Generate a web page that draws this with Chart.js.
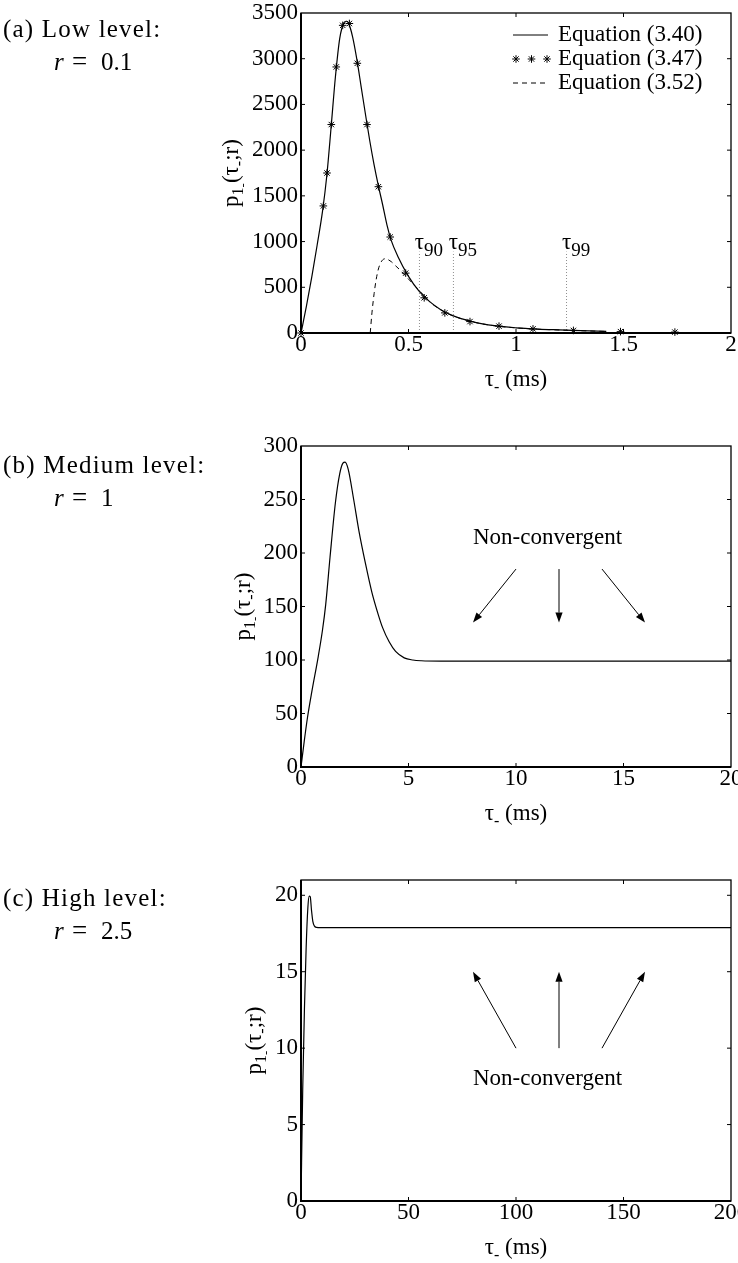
<!DOCTYPE html>
<html>
<head>
<meta charset="utf-8">
<script src="https://cdn.jsdelivr.net/npm/chart.js@4.4.1/dist/chart.umd.min.js"></script>
<style>
  html, body { margin: 0; padding: 0; background: #fff; }
  #page { position: relative; width: 738px; height: 1263px; overflow: hidden; background: #fff; }
  .panel { position: absolute; left: 0; width: 738px; }
</style>
</head>
<body>
<div id="page">
  <div class="panel" style="top:0px;height:433px"><canvas id="chartA"></canvas></div>
  <div class="panel" style="top:433px;height:434px"><canvas id="chartB"></canvas></div>
  <div class="panel" style="top:867px;height:396px"><canvas id="chartC"></canvas></div>
</div>
<script>
// ---------- (a) low level, r = 0.1 ----------
const tauA  = [0, 0.025, 0.05, 0.075, 0.1, 0.12, 0.14, 0.16, 0.18, 0.2, 0.21, 0.22, 0.24, 0.26, 0.28, 0.3,
               0.32, 0.34, 0.36, 0.38, 0.4, 0.42, 0.45, 0.5, 0.55, 0.6, 0.65, 0.7, 0.8, 0.9, 1.0, 1.1, 1.2, 1.3, 1.42];
const p340  = [0, 290, 610, 960, 1330, 1720, 2250, 2800, 3220, 3395, 3410, 3395, 3240, 2990, 2690, 2390,
               2100, 1840, 1610, 1400, 1180, 1010, 840, 620, 455, 340, 255, 195, 122, 80, 57, 43, 34, 26, 18];
const tau347 = [0, 0.104, 0.121, 0.141, 0.164, 0.194, 0.225, 0.262, 0.307, 0.360, 0.415, 0.487, 0.573,
                0.669, 0.786, 0.921, 1.079, 1.267, 1.486, 1.739];
const p347   = [0, 1390, 1750, 2280, 2910, 3365, 3385, 2950, 2280, 1600, 1050, 655, 385,
                220, 125, 75, 45, 28, 15, 10];
const tau352 = [0.322, 0.33, 0.34, 0.35, 0.36, 0.37, 0.38, 0.39, 0.40, 0.42, 0.44, 0.46, 0.48, 0.5, 0.53,
                0.56, 0.6, 0.65, 0.7, 0.8, 0.9, 1.0, 1.1, 1.2, 1.3, 1.42];
const p352   = [0, 220, 430, 590, 700, 765, 800, 812, 808, 780, 735, 690, 640, 590, 515,
                440, 338, 254, 194, 121, 79, 56, 42, 33, 25, 17];
const tauMarks     = [0.551, 0.709, 1.235];
const tauMarkNames = ['90', '95', '99'];
const tauMarkTop   = 890;
const legendA = ['Equation (3.40)', 'Equation (3.47)', 'Equation (3.52)'];
const xTicksA = [0, 0.5, 1, 1.5, 2];
const yTicksA = [0, 500, 1000, 1500, 2000, 2500, 3000, 3500];

// ---------- (b) medium level, r = 1 ----------
const tauB = [0, 0.15, 0.3, 0.5, 0.8, 1.0, 1.15, 1.35, 1.6, 1.8, 1.95, 2.05, 2.2, 2.45, 2.7, 3.0,
              3.3, 3.6, 3.8, 4.1, 4.4, 4.8, 5.2, 5.6, 6.5, 10, 15, 20];
const pB   = [0, 24, 46, 70, 103, 128, 152, 196, 247, 274, 284, 285, 278, 250, 220, 190,
              163, 142, 130, 117, 108, 102, 100, 99.3, 99, 99, 99, 99];
const xTicksB = [0, 5, 10, 15, 20];
const yTicksB = [0, 50, 100, 150, 200, 250, 300];

// ---------- (c) high level, r = 2.5 ----------
const tauC = [0, 0.8, 1.6, 2.4, 3.2, 3.8, 4.3, 4.9, 5.5, 6.2, 7.2, 9, 50, 100, 150, 200];
const pC   = [0, 7.3, 12.6, 16.6, 19.2, 19.95, 19.9, 19.0, 18.3, 18.0, 17.9, 17.88, 17.88, 17.88, 17.88, 17.88];
const xTicksC = [0, 50, 100, 150, 200];
const yTicksC = [0, 5, 10, 15, 20];

const noteText = 'Non-convergent';

// ---------- shared styling ----------
const SERIF = '"Liberation Serif", "Times New Roman", Times, serif';
const font = (size, style) => (style ? style + ' ' : '') + size + 'px ' + SERIF;
Chart.defaults.font.family = SERIF;
Chart.defaults.font.size = 23;
Chart.defaults.color = '#000';
Chart.defaults.animation = false;

const pts = (xs, ys) => xs.map((v, i) => ({ x: v, y: ys[i] }));

function axes(xMin, xMax, xTicks, yMin, yMax, yTicks, xBand) {
  const base = (vals) => ({
    type: 'linear',
    grid: { display: false, drawTicks: false },
    border: { display: false },
    afterBuildTicks: (s) => { s.ticks = vals.map(v => ({ value: v })); },
    ticks: {
      autoSkip: false, maxRotation: 0, color: '#000',
      font: { size: 23, lineHeight: 1 },
      callback: (v) => String(+Number(v).toFixed(3))
    }
  });
  const x = base(xTicks);
  Object.assign(x, { min: xMin, max: xMax, position: 'bottom' });
  x.ticks.padding = 0;
  x.afterFit = (s) => { s.height = xBand; s.paddingLeft = 0; s.paddingRight = 0; };
  const y = base(yTicks);
  Object.assign(y, { min: yMin, max: yMax, position: 'left' });
  y.ticks.padding = 3;
  y.afterFit = (s) => { s.width = 301; s.paddingTop = 0; s.paddingBottom = 0; };
  return { x, y };
}

function drawRich(ctx, parts, x, y, align) {
  let w = 0;
  parts.forEach(p => { ctx.font = p.f; w += ctx.measureText(p.t).width; });
  let cx = align === 'center' ? x - w / 2 : x;
  parts.forEach(p => {
    ctx.font = p.f;
    ctx.fillText(p.t, cx, y + (p.dy || 0));
    cx += ctx.measureText(p.t).width;
  });
}

function drawStar(ctx, x, y, r) {
  const d = r * Math.SQRT1_2;
  ctx.beginPath();
  ctx.moveTo(x - r, y); ctx.lineTo(x + r, y);
  ctx.moveTo(x, y - r); ctx.lineTo(x, y + r);
  ctx.moveTo(x - d, y - d); ctx.lineTo(x + d, y + d);
  ctx.moveTo(x - d, y + d); ctx.lineTo(x + d, y - d);
  ctx.stroke();
}

function drawArrow(ctx, x1, y1, x2, y2) {
  const ang = Math.atan2(y2 - y1, x2 - x1), L = 10, H = 3.6;
  const bx = x2 - L * Math.cos(ang), by = y2 - L * Math.sin(ang);
  ctx.beginPath(); ctx.moveTo(x1, y1); ctx.lineTo(bx, by); ctx.stroke();
  ctx.beginPath();
  ctx.moveTo(x2, y2);
  ctx.lineTo(bx + H * Math.sin(ang), by - H * Math.cos(ang));
  ctx.lineTo(bx - H * Math.sin(ang), by + H * Math.cos(ang));
  ctx.closePath(); ctx.fill();
}

const xTitleParts = [
  { t: 'τ', f: font(23) }, { t: '-', f: font(16), dy: 6 }, { t: ' (ms)', f: font(23) }
];
const yTitleParts = [
  { t: 'p', f: font(23) }, { t: '1', f: font(16), dy: 5 }, { t: '-', f: font(13), dy: 9 },
  { t: '(τ', f: font(23) }, { t: '-', f: font(16), dy: 6 }, { t: ';r)', f: font(23) }
];

// frame, inner ticks, axis titles, captions and annotations
function decor(cfg) {
  return {
    id: 'decor',
    afterDatasetsDraw(chart) {
      const { ctx, chartArea: a, scales: { x, y } } = chart;
      ctx.save();
      ctx.strokeStyle = '#000'; ctx.fillStyle = '#000';
      // inward tick marks on all four sides
      const TL = 4;
      ctx.lineWidth = 1;
      ctx.beginPath();
      x.ticks.forEach(t => {
        const px = x.getPixelForValue(t.value);
        if (px <= a.left + 1 || px >= a.right - 1) return;
        ctx.moveTo(px, a.bottom); ctx.lineTo(px, a.bottom - TL);
        ctx.moveTo(px, a.top); ctx.lineTo(px, a.top + TL);
      });
      y.ticks.forEach(t => {
        const py = y.getPixelForValue(t.value);
        if (py >= a.bottom - 1 || py <= a.top + 1) return;
        ctx.moveTo(a.left, py); ctx.lineTo(a.left + TL, py);
        ctx.moveTo(a.right, py); ctx.lineTo(a.right - TL, py);
      });
      ctx.stroke();
      // axes box
      ctx.lineWidth = 1.3;
      ctx.strokeRect(a.left, a.top, a.right - a.left, a.bottom - a.top);
      ctx.lineWidth = 2;
      ctx.beginPath();
      ctx.moveTo(a.left, a.top); ctx.lineTo(a.left, a.bottom); ctx.lineTo(a.right, a.bottom);
      ctx.stroke();

      // x-axis title
      ctx.textBaseline = 'alphabetic'; ctx.textAlign = 'left';
      drawRich(ctx, xTitleParts, (a.left + a.right) / 2, a.bottom + 53, 'center');

      // y-axis title, rotated, next to the tick labels
      ctx.font = font(23);
      const lw = Math.max(...y.ticks.map(t => ctx.measureText(String(t.value)).width));
      const cx = a.left - 3 - lw - 20, cy = (a.top + a.bottom) / 2;
      ctx.save();
      ctx.translate(cx, cy); ctx.rotate(-Math.PI / 2);
      drawRich(ctx, yTitleParts, 0, 6, 'center');
      ctx.restore();

      // panel caption on the left
      ctx.save();
      ctx.font = font(25);
      if ('letterSpacing' in ctx) ctx.letterSpacing = '1.2px';
      ctx.fillText(cfg.caption, 3, cfg.capY);
      ctx.restore();
      ctx.font = font(25, 'italic'); ctx.fillText('r', 54, cfg.capY + 33);
      ctx.font = font(27); ctx.fillText('=', 72, cfg.capY + 33);
      ctx.font = font(25); ctx.fillText(cfg.rValue, 101, cfg.capY + 33);

      if (cfg.extra) cfg.extra(chart, ctx);
      ctx.restore();
    }
  };
}

function noteWithArrows(note, arrows) {
  return (chart, ctx) => {
    const { scales: { x, y } } = chart;
    ctx.font = font(23); ctx.textBaseline = 'middle'; ctx.textAlign = 'left';
    ctx.fillText(noteText, x.getPixelForValue(note[0]), y.getPixelForValue(note[1]));
    ctx.lineWidth = 1;
    arrows.forEach(([x1, y1, x2, y2]) =>
      drawArrow(ctx, x.getPixelForValue(x1), y.getPixelForValue(y1), x.getPixelForValue(x2), y.getPixelForValue(y2)));
  };
}

const baseOpts = (sc, top) => ({
  responsive: true, maintainAspectRatio: false, animation: false, events: [],
  layout: { padding: { top: top, right: 7, left: 0, bottom: 0 } },
  plugins: { legend: { display: false }, tooltip: { enabled: false } },
  scales: sc
});

const curve = (label, data, extra) => Object.assign({
  label, data, borderColor: '#000', borderWidth: 1.2, pointRadius: 0,
  cubicInterpolationMode: 'monotone', fill: false
}, extra || {});

// ---------- chart (a) ----------
const dsA = [
  curve(legendA[0], pts(tauA, p340)),
  { label: legendA[1], data: pts(tau347, p347), showLine: false, pointStyle: 'star',
    pointRadius: 3.8, borderColor: '#000', borderWidth: 1, clip: false },
  curve(legendA[2], pts(tau352, p352), { borderDash: [5, 4], borderWidth: 1 })
];
tauMarks.forEach((t, i) => dsA.push({
  label: 'τ' + tauMarkNames[i], data: [{ x: t, y: 0 }, { x: t, y: tauMarkTop }],
  borderColor: '#8f8f8f', borderWidth: 1, borderDash: [1, 2], pointRadius: 0
}));

new Chart(document.getElementById('chartA'), {
  type: 'line',
  data: { datasets: dsA },
  options: baseOpts(axes(0, 2, xTicksA, 0, 3500, yTicksA, 100), 13),
  plugins: [decor({
    caption: '(a) Low level:', rValue: '0.1', capY: 37,
    extra: (chart, ctx) => {
      const { scales: { x, y } } = chart;
      // τ markers
      ctx.textBaseline = 'alphabetic'; ctx.fillStyle = '#000';
      tauMarks.forEach((t, i) => {
        const px = x.getPixelForValue(t), base = y.getPixelForValue(tauMarkTop) - 3;
        ctx.font = font(23);
        const tw = ctx.measureText('τ').width;
        ctx.fillText('τ', px - tw / 2, base);
        ctx.font = font(19);
        ctx.fillText(tauMarkNames[i], px + tw / 2, base + 7);
      });
      // legend
      const ds = chart.data.datasets;
      const L = { x0: 513, x1: 548, tx: 558, y0: 35, dy: 24 };
      [0, 1, 2].forEach((k) => {
        const d = ds[k], yy = L.y0 + k * L.dy;
        ctx.strokeStyle = '#000'; ctx.lineWidth = 1;
        if (d.showLine === false) {
          [516, 531.5, 547].forEach(sx => drawStar(ctx, sx, yy, 3.8));
        } else {
          ctx.setLineDash(d.borderDash || []);
          ctx.beginPath(); ctx.moveTo(L.x0, yy); ctx.lineTo(L.x1, yy); ctx.stroke();
          ctx.setLineDash([]);
        }
        ctx.font = font(23); ctx.textBaseline = 'middle'; ctx.textAlign = 'left';
        ctx.fillText(d.label, L.tx, yy);
      });
    }
  })]
});

// ---------- chart (b) ----------
new Chart(document.getElementById('chartB'), {
  type: 'line',
  data: { datasets: [curve('r = 1', pts(tauB, pB))] },
  options: baseOpts(axes(0, 20, xTicksB, 0, 300, yTicksB, 100), 13),
  plugins: [decor({
    caption: '(b) Medium level:', rValue: '1', capY: 40,
    extra: noteWithArrows([8, 214], [[10, 185, 8, 135], [12, 185, 12, 135], [14, 185, 16, 135]])
  })]
});

// ---------- chart (c) ----------
new Chart(document.getElementById('chartC'), {
  type: 'line',
  data: { datasets: [curve('r = 2.5', pts(tauC, pC))] },
  options: baseOpts(axes(0, 200, xTicksC, 0, 21, yTicksC, 62), 13),
  plugins: [decor({
    caption: '(c) High level:', rValue: '2.5', capY: 39,
    extra: noteWithArrows([80, 8], [[100, 10, 80, 15], [120, 10, 120, 15], [140, 10, 160, 15]])
  })]
});
</script>
</body>
</html>
